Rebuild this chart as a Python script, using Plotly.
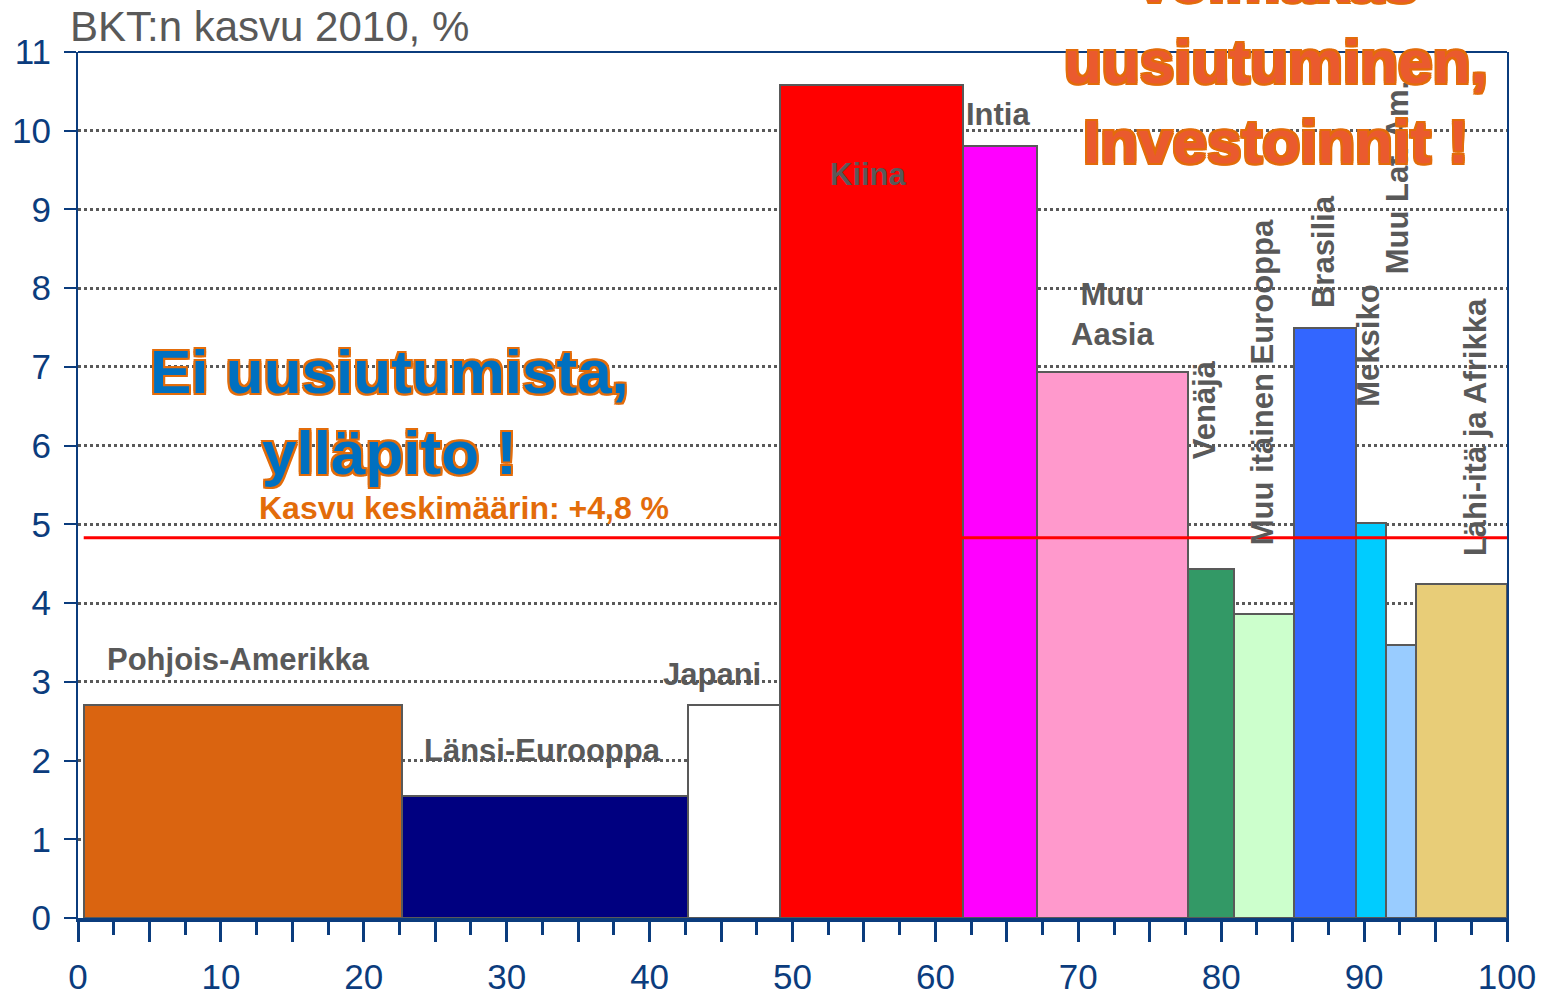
import plotly.graph_objects as go

# data
regions = ['Pohjois-Amerikka', 'Länsi-Eurooppa', 'Japani', 'Kiina', 'Intia', 'Muu Aasia',
           'Venäjä', 'Muu itäinen Eurooppa', 'Brasilia', 'Meksiko', 'Muu Lat. Am.',
           'Lähi-itä ja Afrikka']
edges = [0.4, 22.7, 42.7, 49.1, 61.9, 67.1, 77.7, 80.9, 85.1, 89.4, 91.5, 93.6, 100]
growth = [2.7, 1.55, 2.7, 10.58, 9.8, 6.93, 4.43, 3.86, 7.5, 5.02, 3.47, 4.24]
average = 4.83
x_tick_vals = list(range(0, 101, 5))
x_tick_text = ['0', '', '10', '', '20', '', '30', '', '40', '', '50', '', '60', '', '70', '',
               '80', '', '90', '', '100']

colors = ['#DA6410', '#000080', '#FFFFFF', '#FF0000', '#FF00FF', '#FF99CC',
          '#339966', '#CCFFCC', '#3366FF', '#00CCFF', '#99CCFF', '#E8CD78']

NAVY = '#0B3C7D'
GREY = '#595959'
FONT = 'Arial, Liberation Sans, sans-serif'

widths = [edges[i + 1] - edges[i] for i in range(len(growth))]
centers = [edges[i] + widths[i] / 2 for i in range(len(growth))]

fig = go.Figure()

fig.add_trace(go.Bar(
    x=centers, y=growth, width=widths,
    marker=dict(color=colors, line=dict(color=GREY, width=2)),
    hoverinfo='skip', showlegend=False))

fig.add_trace(go.Scatter(
    x=[edges[0], edges[-1]], y=[average, average], mode='lines',
    line=dict(color='#FF0000', width=3), hoverinfo='skip', showlegend=False))

# label placement (x, y, angle)
label_pos = {
    'Pohjois-Amerikka': (11.2, 3.28, 0),
    'Länsi-Eurooppa': (32.5, 2.13, 0),
    'Japani': (44.4, 3.09, 0),
    'Kiina': (55.3, 9.44, 0),
    'Intia': (64.4, 10.2, 0),
    'Muu Aasia': (72.4, 7.66, 0),
    'Venäjä': (78.8, 6.45, -90),
    'Muu itäinen Eurooppa': (82.9, 6.8, -90),
    'Brasilia': (87.2, 8.46, -90),
    'Meksiko': (90.35, 7.27, -90),
    'Muu Lat. Am.': (92.4, 9.4, -90),
    'Lähi-itä ja Afrikka': (97.8, 6.23, -90),
}
for name in regions:
    lx, ly, ang = label_pos[name]
    txt = 'Muu<br>Aasia' if name == 'Muu Aasia' else name
    fig.add_annotation(x=lx, y=ly, text='<b>' + txt + '</b>', showarrow=False,
                       textangle=ang, font=dict(family=FONT, size=31, color=GREY))

fig.add_annotation(x=12.5, y=5.21, xanchor='left', showarrow=False,
                   text='<b>Kasvu keskimäärin: +4,8 %</b>',
                   font=dict(family=FONT, size=32, color='#E36C0A'))

outline = '#E36C0A'
shadow = ', '.join(f'{dx}px {dy}px 0 {outline}' for dx, dy in
                   [(2, 0), (-2, 0), (0, 2), (0, -2), (2, 2), (-2, -2), (2, -2), (-2, 2)])

fig.add_annotation(x=21.8, y=6.43, showarrow=False,
                   text='<b>Ei uusiutumista,<br>ylläpito !</b>',
                   font=dict(family=FONT, size=62, color='#0070C0', shadow=shadow))

fig.add_annotation(x=83.8, y=10.88, showarrow=False, yanchor='middle',
                   text='<b>Voimakas<br>uusiutuminen,<br>Investoinnit !</b>',
                   font=dict(family=FONT, size=62, color='#EA5A2E', shadow=shadow))

fig.add_annotation(x=-0.007, y=1, xref='paper', yref='paper', xanchor='left',
                   yanchor='bottom', showarrow=False, text='BKT:n kasvu 2010, %',
                   font=dict(family=FONT, size=42, color=GREY))

fig.add_shape(type='line', xref='paper', yref='paper', x0=0, x1=1, y0=1, y1=1,
              line=dict(color=NAVY, width=2))

fig.update_layout(
    width=1547, height=996,
    margin=dict(l=78, r=40, t=52, b=78),
    plot_bgcolor='white', paper_bgcolor='white',
    bargap=0,
    xaxis=dict(range=[0, 100], tickvals=x_tick_vals, ticktext=x_tick_text,
               ticks='outside', ticklen=20, tickwidth=3, tickcolor=NAVY,
               minor=dict(dtick=2.5, ticks='outside', ticklen=13, tickwidth=3, tickcolor=NAVY),
               showline=True, linecolor=NAVY, linewidth=4, showgrid=False, zeroline=False,
               ticklabelstandoff=5, automargin=False,
               tickfont=dict(family=FONT, size=35, color=NAVY)),
    yaxis=dict(range=[0, 11], dtick=1, ticks='outside', ticklen=12, tickwidth=2,
               tickcolor=NAVY, showline=True, linecolor=NAVY, linewidth=2, mirror=True,
               showgrid=True, gridcolor=GREY, gridwidth=3, griddash='dot', zeroline=False,
               ticklabelstandoff=6, automargin=False,
               tickfont=dict(family=FONT, size=35, color=NAVY)),
)

fig.write_html('out.html', config={'displayModeBar': False},
               post_script="document.body.style.margin='0';")
